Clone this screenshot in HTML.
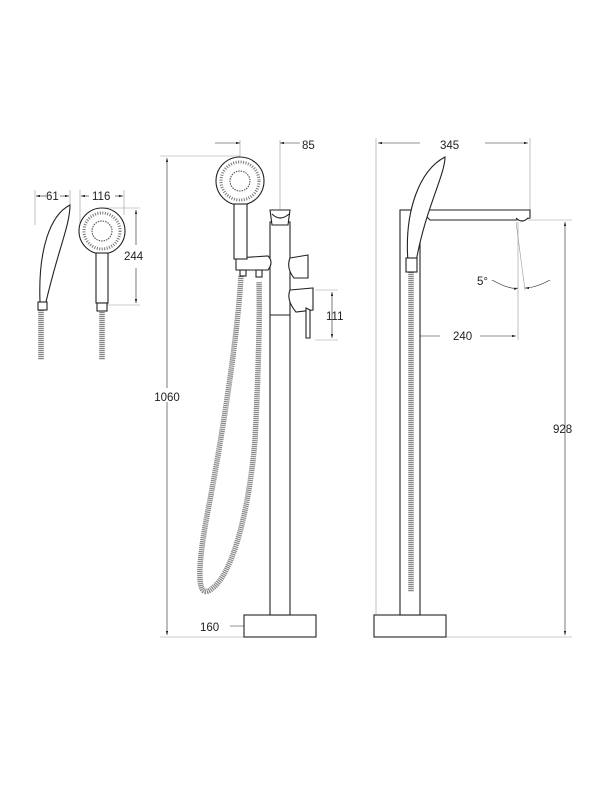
<!DOCTYPE html>
<html><head><style>
html,body{margin:0;padding:0;background:#fff;width:600px;height:800px;overflow:hidden}
text{font-family:"Liberation Sans",sans-serif;font-size:11.5px;fill:#222}
</style></head><body>
<svg width="600" height="800" viewBox="0 0 600 800" xmlns="http://www.w3.org/2000/svg">
<defs>
<marker id="a" viewBox="0 0 10 6" refX="10" refY="3" markerWidth="8" markerHeight="4" orient="auto-start-reverse"><path d="M0,0L10,3L0,6z" fill="#222"/></marker>
</defs>
<g stroke="#999" stroke-width="0.6" fill="none">
<line x1="160" y1="156" x2="240" y2="156"/><line x1="160" y1="637" x2="244" y2="637"/>
<line x1="167" y1="158" x2="167" y2="635" stroke="#222" marker-start="url(#a)" marker-end="url(#a)"/>
<line x1="240" y1="140" x2="240" y2="156"/><line x1="280" y1="140" x2="280" y2="212"/>
<line x1="215" y1="143" x2="240" y2="143" stroke="#222" marker-end="url(#a)"/>
<line x1="300" y1="143" x2="280" y2="143" stroke="#222" marker-end="url(#a)"/>
<line x1="315" y1="290" x2="338" y2="290"/><line x1="315" y1="340" x2="338" y2="340"/>
<line x1="332" y1="292" x2="332" y2="338" stroke="#222" marker-start="url(#a)" marker-end="url(#a)"/>
<line x1="230" y1="626" x2="314" y2="626" stroke="#222" marker-end="url(#a)"/>
<line x1="246" y1="626" x2="260" y2="626" stroke="#222" marker-start="url(#a)"/>
<line x1="376" y1="138" x2="376" y2="615"/><line x1="530" y1="138" x2="530" y2="210"/>
<line x1="378" y1="143" x2="420" y2="143" stroke="#222" marker-start="url(#a)"/>
<line x1="485" y1="143" x2="528" y2="143" stroke="#222" marker-end="url(#a)"/>
<line x1="528" y1="220" x2="572" y2="220"/><line x1="446" y1="637" x2="572" y2="637"/>
<line x1="565" y1="222" x2="565" y2="635" stroke="#222" marker-start="url(#a)" marker-end="url(#a)"/>
<line x1="518" y1="222" x2="518" y2="340"/><line x1="516" y1="222" x2="525" y2="290"/>
<line x1="412" y1="336" x2="440" y2="336" stroke="#222" marker-start="url(#a)"/>
<line x1="480" y1="336" x2="516" y2="336" stroke="#222" marker-end="url(#a)"/>
<path d="M492,280 Q510,290 518,288" stroke="#222" marker-end="url(#a)"/>
<path d="M550,280 Q535,288 525,288" stroke="#222" marker-end="url(#a)"/>
<line x1="35" y1="190" x2="35" y2="225"/><line x1="70" y1="190" x2="70" y2="210"/>
<line x1="80" y1="190" x2="80" y2="225"/><line x1="124" y1="190" x2="124" y2="215"/>
<line x1="36" y1="196" x2="46" y2="196" stroke="#222" marker-start="url(#a)"/>
<line x1="60" y1="196" x2="69" y2="196" stroke="#222" marker-end="url(#a)"/>
<line x1="81" y1="196" x2="89" y2="196" stroke="#222" marker-start="url(#a)"/>
<line x1="115" y1="196" x2="123" y2="196" stroke="#222" marker-end="url(#a)"/>
<line x1="105" y1="208" x2="140" y2="208"/><line x1="105" y1="305" x2="140" y2="305"/>
<line x1="136" y1="210" x2="136" y2="245" stroke="#222" marker-start="url(#a)"/>
<line x1="136" y1="268" x2="136" y2="303" stroke="#222" marker-end="url(#a)"/>
</g>
<g fill="none" stroke="#888" stroke-width="5.5" stroke-dasharray="1.2 0.8">
<path d="M241,276 C238,330 225,420 210,500 C198,560 195,600 210,590 C235,575 250,500 255,440 C258,380 260,320 259,282"/>
<path d="M41,310 L41,360"/><path d="M102,310 L102,360"/>
</g>
<g fill="#fff" stroke="#222" stroke-width="1.1">
<rect x="244" y="615" width="72" height="22"/>
<rect x="270" y="222" width="20" height="393"/>
<line x1="270" y1="315" x2="290" y2="315"/>
<path d="M270,210 L290,210 L288,225 L272,225 Z"/>
<path d="M272,214 Q280,222 289,214"/>
<path d="M236,258 L268,256 Q274,262 268,270 L236,270 Z"/>
<rect x="240" y="270" width="6" height="6"/><rect x="256" y="270" width="6" height="7"/>
<path d="M290,258 L308,255 L308,278 L294,278 Q286,268 290,258Z"/>
<path d="M290,290 L313,288 L313,310 L296,312 Q286,300 290,290Z"/>
<path d="M306,308 L310,310 L310,338 L306,338Z"/>
<circle cx="240" cy="181" r="24"/>
<circle cx="240" cy="181" r="10" stroke="#555" stroke-dasharray="1.5 1"/>
<circle cx="240" cy="181" r="19" stroke="#777" stroke-dasharray="1 1.5" stroke-width="3" fill="none"/>
<rect x="234" y="204" width="13" height="55"/>
<rect x="374" y="615" width="72" height="22"/>
<rect x="400" y="210" width="20" height="405"/>
<path d="M420,210 L530,210 L530,218 L516,220 L430,220 Z"/>
<path d="M516,218 Q522,224 528,218"/>
</g>
<path d="M411,272 L411,592" fill="none" stroke="#888" stroke-width="5.5" stroke-dasharray="1.2 0.8"/>
<g fill="#fff" stroke="#222" stroke-width="1.1">
<path d="M408,262 C404,210 420,170 445,157 C445,175 425,210 416,262 Z"/>
<rect x="406" y="258" width="11" height="14"/>
<path d="M40,302 C38,250 50,215 70,205 C70,225 58,250 46,302 Z"/>
<rect x="38" y="302" width="9" height="8"/>
<circle cx="102" cy="231" r="23"/>
<circle cx="102" cy="231" r="10" stroke="#555" stroke-dasharray="1.5 1"/>
<circle cx="102" cy="231" r="18" stroke="#777" stroke-dasharray="1 1.5" stroke-width="3" fill="none"/>
<rect x="96" y="253" width="12" height="50"/>
<rect x="97" y="303" width="10" height="8"/>
</g>
<rect x="154" y="388" width="27" height="14" fill="#fff"/>
<text x="302" y="149">85</text>
<text x="167" y="401" text-anchor="middle">1060</text>
<text x="326" y="320">111</text>
<text x="200" y="631">160</text>
<text x="440" y="149">345</text>
<text x="477" y="285">5°</text>
<text x="453" y="340">240</text>
<text x="553" y="433">928</text>
<text x="46" y="200">61</text>
<text x="92" y="200">116</text>
<text x="124" y="260">244</text>
</svg>
</body></html>
